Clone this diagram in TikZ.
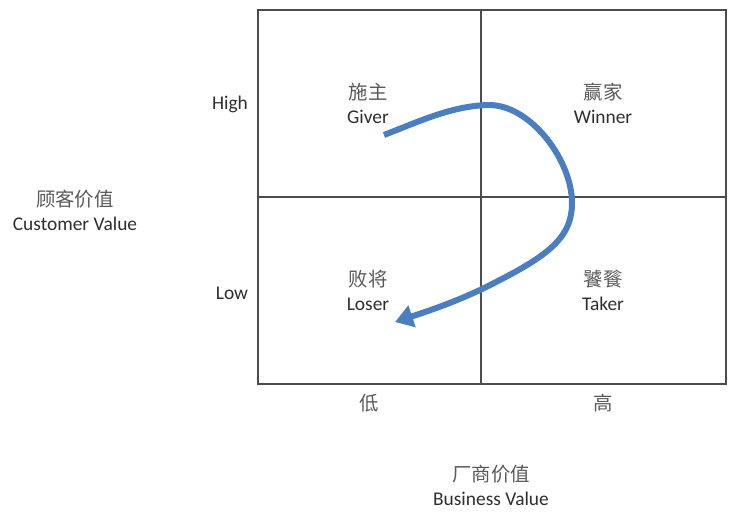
\documentclass[tikz,border=0pt]{standalone}
\usepackage{fontspec}
\setmainfont{Carlito}
\newfontfamily\cjk{Noto Sans CJK SC}
\usepackage{tikz}
\usetikzlibrary{arrows.meta, positioning}

\definecolor{curveblue}{RGB}{74,126,192}

\begin{document}
\begin{tikzpicture}[x=0.5pt, y=-0.5pt,
    every node/.style={font=\fontsize{9.7}{12}\selectfont, text=black!82},
    label/.style={align=center, inner sep=0pt},
    grid/.style={draw=black!70, line width=0.6pt}]
    \useasboundingbox (0,0) rectangle (743,527);

    % Frame and quadrant lines
    \draw[grid] (258,10) rectangle (726,384);
    \draw[grid] (481,10) -- (481,384);
    \draw[grid] (258,197) -- (726,197);

    % Quadrants
    \node[label] (giver) at (368,103) {{\cjk\color{black!65}施主}\\Giver};
    \node[label] (winner) at (603,103) {{\cjk\color{black!65}赢家}\\Winner};
    \node[label] (loser) at (368,290) {{\cjk\color{black!65}败将}\\Loser};
    \node[label] (taker) at (603,290) {{\cjk\color{black!65}饕餮}\\Taker};

    % Axis ticks
    \node (high) at (230,104) {High};
    \node (low) at (232,293) {Low};
    \node[font=\cjk\fontsize{9.7}{12}\selectfont, text=black!65] (lowbiz) at (369,403) {低};
    \node[font=\cjk\fontsize{9.7}{12}\selectfont, text=black!65] (highbiz) at (603,403) {高};

    % Axis titles
    \node[label] (custval) at (75,210) {{\cjk\color{black!65}顾客价值}\\Customer Value};
    \node[label] (bizval) at (491,485) {{\cjk\color{black!65}厂商价值}\\Business Value};

    % Path of the curve
    \coordinate (curvestart) at (384,135);
    \coordinate (curveend) at (395,322);
    \draw[curveblue, line width=3pt, -{Triangle[length=9pt, width=11pt]}]
        (curvestart) .. controls (420,121) and (452,106) .. (488,105)
        .. controls (530,104) and (572,160) .. (572,203)
        .. controls (572,240) and (545,258) .. (480,290)
        .. controls (450,304) and (425,312) .. (curveend);
\end{tikzpicture}
\end{document}
